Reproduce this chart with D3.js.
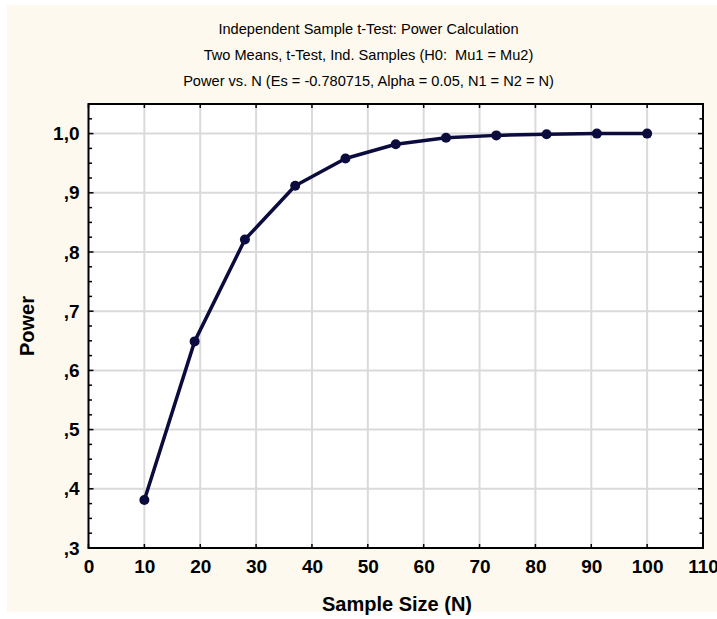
<!DOCTYPE html>
<html>
<head>
<meta charset="utf-8">
<script src="https://cdn.jsdelivr.net/npm/d3@7"></script>
<style>
  html, body { margin: 0; padding: 0; background: #ffffff; }
  svg { display: block; }
</style>
</head>
<body>
<svg id="chart" width="717" height="619"></svg>
<script>
// ---- data ----
const sampleSizes = [10, 19, 28, 37, 46, 55, 64, 73, 82, 91, 100];
const powerValues = [0.381, 0.649, 0.821, 0.912, 0.958, 0.982, 0.993, 0.997, 0.999, 1.0, 1.0];
const xTicks = [0, 10, 20, 30, 40, 50, 60, 70, 80, 90, 100, 110];
const yTicks = [0.3, 0.4, 0.5, 0.6, 0.7, 0.8, 0.9, 1.0];
const yTickLabels = [",3", ",4", ",5", ",6", ",7", ",8", ",9", "1,0"];
const titleLines = [
  "Independent Sample t-Test: Power Calculation",
  "Two Means, t-Test, Ind. Samples (H0:  Mu1 = Mu2)",
  "Power vs. N (Es = -0.780715, Alpha = 0.05, N1 = N2 = N)"
];
const xTitle = "Sample Size (N)";
const yTitle = "Power";

// ---- layout ----
const svg = d3.select("#chart");
const W = 717, H = 619;
const plot = { left: 88.5, right: 703, top: 104, bottom: 548 };
const font = "Arial, 'Liberation Sans', Helvetica, sans-serif";
const lineColor = "#0b0b3d";

svg.append("rect").attr("x", 7).attr("y", 5).attr("width", W - 7).attr("height", 607)
  .attr("fill", "#fdf9ee");

const x = d3.scaleLinear().domain([0, 110]).range([plot.left, plot.right]);
const y = d3.scaleLinear().domain([0.3, 1.05]).range([plot.bottom, plot.top]);

// plot background
svg.append("rect").attr("x", plot.left).attr("y", plot.top)
  .attr("width", plot.right - plot.left).attr("height", plot.bottom - plot.top)
  .attr("fill", "#ffffff");

// gridlines
const grid = svg.append("g").attr("stroke", "#dadada").attr("stroke-width", 2);
grid.selectAll("line.gx").data(xTicks.filter(d => d > 0 && d < 110)).join("line")
  .attr("x1", d => x(d)).attr("x2", d => x(d))
  .attr("y1", plot.top).attr("y2", plot.bottom);
grid.selectAll("line.gy").data(yTicks.filter(d => d > 0.3)).join("line")
  .attr("y1", d => y(d)).attr("y2", d => y(d))
  .attr("x1", plot.left).attr("x2", plot.right);

// minor y ticks
const minorY = d3.range(0, 31).map(i => 0.3 + i * 0.025).filter(v => v < 1.049);

// axes via d3
const yAxisL = d3.axisLeft(y).tickValues(yTicks).tickSize(0).tickPadding(9)
  .tickFormat((d, i) => yTickLabels[i]);
const gyl = svg.append("g").attr("transform", `translate(${plot.left},0)`).call(yAxisL);
gyl.select(".domain").remove();
gyl.selectAll("text").attr("font-family", font).attr("font-weight", "bold")
  .attr("font-size", 19).attr("fill", "#000");

const xAxisB = d3.axisBottom(x).tickValues(xTicks).tickSize(0).tickPadding(12)
  .tickFormat(d3.format("d"));
const gxb = svg.append("g").attr("transform", `translate(0,${plot.bottom})`).call(xAxisB);
gxb.select(".domain").remove();
gxb.selectAll("text").attr("font-family", font).attr("font-weight", "bold")
  .attr("font-size", 19).attr("fill", "#000");

// tick marks (inward)
const tk = svg.append("g").attr("stroke", "#000").attr("stroke-width", 1.5);
tk.selectAll("line.ml").data(minorY).join("line")
  .attr("x1", plot.left).attr("x2", (d, i) => plot.left + (i % 4 === 0 ? 5 : 3.5))
  .attr("y1", d => y(d)).attr("y2", d => y(d));
tk.selectAll("line.mr").data(minorY).join("line")
  .attr("x1", plot.right).attr("x2", (d, i) => plot.right - (i % 4 === 0 ? 5 : 3.5))
  .attr("y1", d => y(d)).attr("y2", d => y(d));
tk.selectAll("line.tb").data(xTicks).join("line")
  .attr("x1", d => x(d)).attr("x2", d => x(d))
  .attr("y1", plot.bottom).attr("y2", plot.bottom - 4);
tk.selectAll("line.tt").data(xTicks).join("line")
  .attr("x1", d => x(d)).attr("x2", d => x(d))
  .attr("y1", plot.top).attr("y2", plot.top + 4);

// frame
svg.append("rect").attr("x", plot.left).attr("y", plot.top)
  .attr("width", plot.right - plot.left).attr("height", plot.bottom - plot.top)
  .attr("fill", "none").attr("stroke", "#000").attr("stroke-width", 2);

// line + markers
const pts = sampleSizes.map((n, i) => [n, powerValues[i]]);
svg.append("path").datum(pts)
  .attr("d", d3.line().x(d => x(d[0])).y(d => y(d[1])))
  .attr("fill", "none").attr("stroke", lineColor).attr("stroke-width", 3.5)
  .attr("stroke-linejoin", "round");
svg.selectAll("circle.pt").data(pts).join("circle")
  .attr("cx", d => x(d[0])).attr("cy", d => y(d[1])).attr("r", 5)
  .attr("fill", lineColor);

// titles
svg.selectAll("text.title").data(titleLines).join("text")
  .attr("x", 368.5).attr("y", (d, i) => 34 + i * 26)
  .attr("text-anchor", "middle").attr("font-family", font)
  .attr("font-size", 14.6).attr("fill", "#000")
  .style("white-space", "pre")
  .text(d => d);

svg.append("text").attr("x", 397).attr("y", 611)
  .attr("text-anchor", "middle").attr("font-family", font)
  .attr("font-weight", "bold").attr("font-size", 20).attr("fill", "#000")
  .text(xTitle);

svg.append("text").attr("transform", `translate(34,${(plot.top + plot.bottom) / 2}) rotate(-90)`)
  .attr("text-anchor", "middle").attr("font-family", font)
  .attr("font-weight", "bold").attr("font-size", 20).attr("fill", "#000")
  .text(yTitle);
</script>
</body>
</html>
